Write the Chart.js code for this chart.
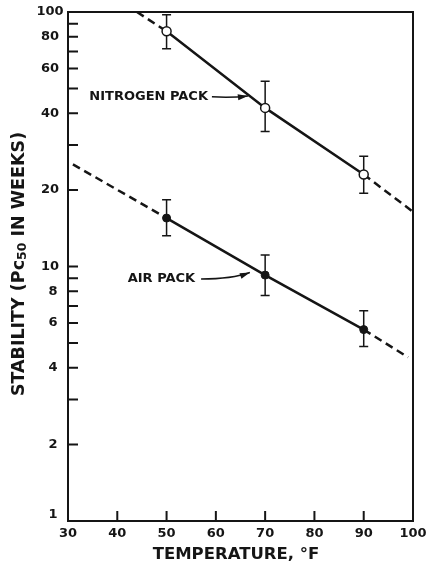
<!DOCTYPE html>
<html>
<head>
<meta charset="utf-8">
<script src="https://cdn.jsdelivr.net/npm/chart.js@4"></script>
<style>
  html, body { margin: 0; padding: 0; background: #fff; }
  canvas { display: block; }
</style>
</head>
<body>
<canvas id="stability" width="426" height="571"></canvas>
<script>
// storage temperature (deg F) and stability in weeks
const temps = [50, 70, 90];
const nitrogen = [84, 42, 23];
const nitrogenHi = [97.5, 53.5, 27.1];
const nitrogenLo = [71.7, 33.9, 19.4];
const air = [15.5, 9.25, 5.65];
const airHi = [18.3, 11.1, 6.7];
const airLo = [13.2, 7.7, 4.85];
// dashed extrapolation ends of each fitted line [temp, weeks]
const nitrogenExt = [[44, 100], [100, 16.4]];
const airExt = [[31, 25.2], [99, 4.4]];

const xTicks = [30, 40, 50, 60, 70, 80, 90, 100];
const yTicks = [1, 2, 3, 4, 5, 6, 7, 8, 9, 10, 20, 30, 40, 50, 60, 70, 80, 90, 100];
const yLabels = [1, 2, 4, 6, 8, 10, 20, 40, 60, 80, 100];

const INK = '#151515';
const FONT = '"DejaVu Sans", sans-serif';

function pts(ys) { return temps.map(function(t, i){ return { x: t, y: ys[i] }; }); }

function dashed(a, b) {
  return {
    data: [{ x: a[0], y: a[1] }, { x: b[0], y: b[1] }],
    showLine: true, borderColor: INK, borderWidth: 2.5, borderDash: [8, 5],
    pointRadius: 0
  };
}

function arrow(ctx, x0, y0, cx, cy, x1, y1) {
  ctx.beginPath();
  ctx.moveTo(x0, y0);
  ctx.quadraticCurveTo(cx, cy, x1, y1);
  ctx.stroke();
  var a = Math.atan2(y1 - cy, x1 - cx);
  ctx.beginPath();
  ctx.moveTo(x1, y1);
  ctx.lineTo(x1 - 10 * Math.cos(a) + 3 * Math.sin(a), y1 - 10 * Math.sin(a) - 3 * Math.cos(a));
  ctx.lineTo(x1 - 10 * Math.cos(a) - 3 * Math.sin(a), y1 - 10 * Math.sin(a) + 3 * Math.cos(a));
  ctx.closePath();
  ctx.fill();
}

const decor = {
  id: 'decor',
  beforeDatasetsDraw: function(chart) {
    var ctx = chart.ctx, sx = chart.scales.x, sy = chart.scales.y;
    ctx.save();
    ctx.strokeStyle = INK;
    ctx.lineWidth = 1.5;
    [[nitrogenHi, nitrogenLo], [airHi, airLo]].forEach(function(s){
      temps.forEach(function(t, i){
        var x = sx.getPixelForValue(t);
        var yh = sy.getPixelForValue(s[0][i]), yl = sy.getPixelForValue(s[1][i]);
        ctx.beginPath();
        ctx.moveTo(x, yh); ctx.lineTo(x, yl);
        ctx.moveTo(x - 4.5, yh); ctx.lineTo(x + 4.5, yh);
        ctx.moveTo(x - 4.5, yl); ctx.lineTo(x + 4.5, yl);
        ctx.stroke();
      });
    });
    ctx.restore();
  },
  afterDraw: function(chart) {
    var ctx = chart.ctx, sx = chart.scales.x, sy = chart.scales.y, a = chart.chartArea;
    ctx.save();
    ctx.strokeStyle = INK;
    ctx.fillStyle = INK;

    // frame
    ctx.lineWidth = 2;
    ctx.strokeRect(a.left, a.top, a.right - a.left, a.bottom - a.top);

    // inward tick marks
    ctx.lineWidth = 2;
    ctx.beginPath();
    yTicks.forEach(function(v){
      if (v === 1 || v === 100) return;
      var y = sy.getPixelForValue(v);
      ctx.moveTo(a.left, y); ctx.lineTo(a.left + 10, y);
    });
    xTicks.forEach(function(v){
      if (v === 30 || v === 100) return;
      var x = sx.getPixelForValue(v);
      ctx.moveTo(x, a.bottom); ctx.lineTo(x, a.bottom - 10);
    });
    ctx.stroke();

    // tick labels
    ctx.font = 'bold 13px ' + FONT;
    ctx.textAlign = 'center';
    ctx.textBaseline = 'middle';
    yLabels.forEach(function(v){
      var y = sy.getPixelForValue(v);
      if (v === 1) y -= 6;
      ctx.fillText(String(v), v < 10 ? 53 : 50, y);
    });
    xTicks.forEach(function(v){
      ctx.fillText(String(v), sx.getPixelForValue(v), a.bottom + 13);
    });

    // axis titles
    ctx.font = 'bold 16.5px ' + FONT;
    ctx.fillText('TEMPERATURE, \u00B0F', 236, 555);

    ctx.save();
    ctx.translate(19, 264);
    ctx.rotate(-Math.PI / 2);
    ctx.textAlign = 'left';
    ctx.textBaseline = 'middle';
    var big = 'bold 17.5px ' + FONT, small = 'bold 12.5px ' + FONT;
    var parts = [['STABILITY (P', big, 0], ['c', big, 0], ['50', small, 4], [' IN WEEKS)', big, 0]];
    var total = 0;
    parts.forEach(function(p){ ctx.font = p[1]; total += ctx.measureText(p[0]).width; });
    var cx = -total / 2;
    parts.forEach(function(p){
      ctx.font = p[1];
      ctx.fillText(p[0], cx, p[2]);
      cx += ctx.measureText(p[0]).width;
    });
    ctx.restore();

    // series labels with pointers
    ctx.font = 'bold 13px ' + FONT;
    ctx.textAlign = 'right';
    ctx.fillText('NITROGEN PACK', sx.getPixelForValue(58.4), sy.getPixelForValue(46.4));
    ctx.fillText('AIR PACK', sx.getPixelForValue(55.8), sy.getPixelForValue(9.0));

    ctx.lineWidth = 1.5;
    arrow(ctx,
      sx.getPixelForValue(59.2), sy.getPixelForValue(46.4),
      sx.getPixelForValue(63.3), sy.getPixelForValue(45.9),
      sx.getPixelForValue(66.5), sy.getPixelForValue(46.8));
    arrow(ctx,
      sx.getPixelForValue(57.0), sy.getPixelForValue(8.93),
      sx.getPixelForValue(63.3), sy.getPixelForValue(8.93),
      sx.getPixelForValue(66.9), sy.getPixelForValue(9.47));

    ctx.restore();
  }
};

new Chart(document.getElementById('stability'), {
  type: 'scatter',
  data: {
    datasets: [
      {
        label: 'Nitrogen pack', data: pts(nitrogen), showLine: true,
        borderColor: INK, borderWidth: 2.5,
        pointRadius: 4.5, pointBackgroundColor: '#fff', pointBorderColor: INK, pointBorderWidth: 1.5
      },
      {
        label: 'Air pack', data: pts(air), showLine: true,
        borderColor: INK, borderWidth: 2.5,
        pointRadius: 4, pointBackgroundColor: INK, pointBorderColor: INK, pointBorderWidth: 1
      },
      dashed(nitrogenExt[0], [temps[0], nitrogen[0]]),
      dashed([temps[2], nitrogen[2]], nitrogenExt[1]),
      dashed(airExt[0], [temps[0], air[0]]),
      dashed([temps[2], air[2]], airExt[1])
    ]
  },
  options: {
    responsive: false,
    animation: false,
    layout: { padding: { left: 68, top: 12, right: 13, bottom: 50 } },
    plugins: { legend: { display: false }, tooltip: { enabled: false } },
    scales: {
      x: { type: 'linear', min: 30, max: 100, display: false },
      y: { type: 'logarithmic', min: 1, max: 100, display: false }
    }
  },
  plugins: [decor]
});
</script>
</body>
</html>
